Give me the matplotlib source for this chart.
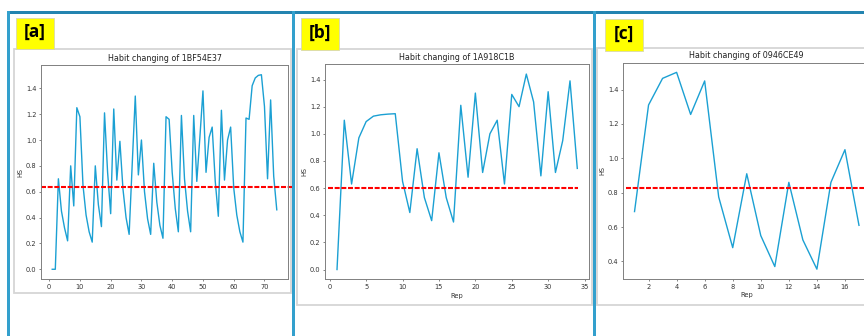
import numpy as np
import matplotlib.pyplot as plt
from matplotlib.patches import Rectangle

# HS per repetition
hs_1bf54e37 = [0.00, 0.00, 0.70, 0.45, 0.32, 0.22, 0.80, 0.49, 1.25, 1.18,
               0.65, 0.42, 0.29, 0.21, 0.80, 0.50, 0.33, 1.21, 0.75, 0.43,
               1.24, 0.69, 0.99, 0.62, 0.40, 0.27, 0.81, 1.34, 0.73, 1.00,
               0.60, 0.39, 0.27, 0.82, 0.52, 0.34, 0.24, 1.18, 1.16, 0.75,
               0.47, 0.29, 1.19, 0.70, 0.45, 0.29, 1.19, 0.68, 1.02, 1.38,
               0.75, 1.02, 1.10, 0.68, 0.41, 1.23, 0.69, 1.00, 1.10, 0.63,
               0.42, 0.29, 0.21, 1.17, 1.16, 1.42, 1.48, 1.50, 1.505, 1.26,
               0.70, 1.31, 0.72, 0.46]
hs_1a918c1b = [0.00, 1.10, 0.63, 0.97, 1.09, 1.13, 1.14, 1.145, 1.148, 0.65,
               0.42, 0.89, 0.53, 0.36, 0.86, 0.53, 0.35, 1.21, 0.68, 1.30,
               0.715, 1.00, 1.10, 0.63, 1.29, 1.20, 1.44, 1.235, 0.69, 1.31,
               0.715, 0.95, 1.39, 0.745]
hs_0946ce49 = [0.69, 1.31, 1.465, 1.50, 1.255, 1.45, 0.775, 0.48, 0.91, 0.55,
               0.37, 0.86, 0.525, 0.355, 0.86, 1.05, 0.61]

# red dashed reference level of each panel
ref_levels = [0.639, 0.604, 0.83]

user_ids = ["1BF54E37", "1A918C1B", "0946CE49"]
panel_tags = ["[a]", "[b]", "[c]"]
xticks_a = [0, 10, 20, 30, 40, 50, 60, 70]
xticks_b = [0, 5, 10, 15, 20, 25, 30, 35]
xticks_c = [2, 4, 6, 8, 10, 12, 14, 16]
yticks_ab = [0.0, 0.2, 0.4, 0.6, 0.8, 1.0, 1.2, 1.4]
yticks_c = [0.4, 0.6, 0.8, 1.0, 1.2, 1.4]

W, H = 864, 336
K = 0.48  # the screenshots were pasted at about half size

fig = plt.figure(figsize=(W / 100, H / 100), dpi=100)


def frac(l, t, r, b):
    return [l / W, 1 - b / H, (r - l) / W, (b - t) / H]


def rect(l, t, r, b, **kw):
    x, y, w, h = frac(l, t, r, b)
    fig.patches.append(Rectangle((x, y), w, h, transform=fig.transFigure,
                                 zorder=-2, **kw))


# blue slide borders
rect(7, 11, 864, 13.5, facecolor="#2384b0", edgecolor="none")
rect(7, 11, 9.5, 336, facecolor="#33a0cd", edgecolor="none")
rect(292, 11, 294.8, 336, facecolor="#33a0cd", edgecolor="none")
rect(593, 11, 596, 336, facecolor="#33a0cd", edgecolor="none")

panels = [
    # screenshot frame, yellow tag, axes box, red line span, data, ticks, xlabel
    dict(frame=(14, 49, 290.5, 293), tag=(16, 18, 54, 49), ax=(41, 65, 288, 279),
         span=(0.0, 1.017), y=hs_1bf54e37, xt=xticks_a, yt=yticks_ab, rep=False),
    dict(frame=(296.5, 49, 592, 305), tag=(301, 18, 339, 50), ax=(325, 64.3, 589.3, 279.3),
         span=(0.011, 0.957), y=hs_1a918c1b, xt=xticks_b, yt=yticks_ab, rep=True),
    dict(frame=(597, 48, 875, 305), tag=(605, 19, 643, 51), ax=(623.3, 62.5, 870.2, 279),
         span=(0.01, 1.0), y=hs_0946ce49, xt=xticks_c, yt=yticks_c, rep=True),
]

for i, p in enumerate(panels):
    rect(*p["frame"], facecolor="white", edgecolor="#d6d6d6", linewidth=1.3)
    rect(*p["tag"], facecolor="#ffff00", edgecolor="#d8d8b0", linewidth=0.6)
    l, t, r, b = p["tag"]
    fig.text((l + r) / 2 / W, 1 - (t + b) / 2 / H + 0.004, panel_tags[i],
             ha="center", va="center", fontsize=12.5, fontweight="bold",
             family="Open Sans", color="black")

    ax = fig.add_axes(frac(*p["ax"]))
    reps = np.arange(1, len(p["y"]) + 1)
    ax.plot(reps, p["y"], color="#1ba0d3", linewidth=1.0)
    ax.axhline(ref_levels[i], xmin=p["span"][0], xmax=p["span"][1], color="red",
               linestyle=(0, (2.4, 0.8)), linewidth=1.5, clip_on=False)
    ax.set_xticks(p["xt"])
    ax.set_yticks(p["yt"])
    ax.set_yticklabels([f"{v:.1f}" for v in p["yt"]])
    ax.set_title(f"Habit changing of {user_ids[i]}", fontsize=12 * K,
                 pad=6 * K, color="#222222")
    ax.set_ylabel("HS", fontsize=10 * K, labelpad=4 * K, color="#333333")
    if p["rep"]:
        ax.set_xlabel("Rep", fontsize=10 * K, labelpad=4 * K, color="#333333")
    ax.tick_params(labelsize=10 * K, length=3.5 * K, width=0.5, pad=3.5 * K,
                   colors="#555555", labelcolor="#333333")
    for s in ax.spines.values():
        s.set_color("#808080")
        s.set_linewidth(0.7)

fig.savefig("out.png", dpi=100)
